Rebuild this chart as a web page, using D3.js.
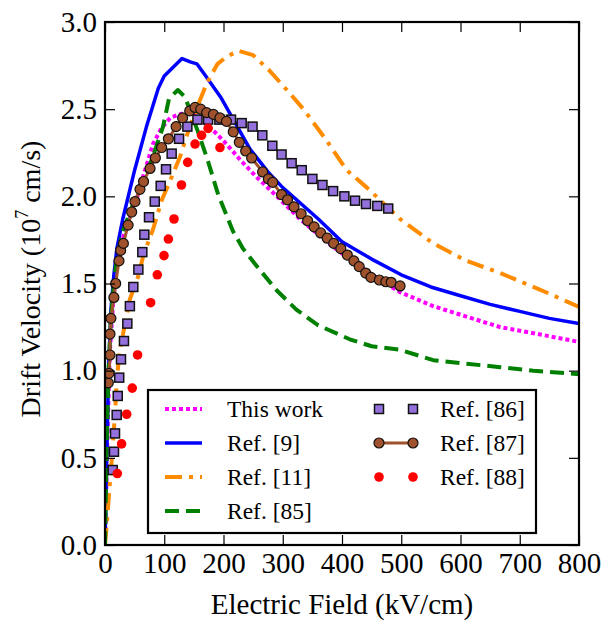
<!DOCTYPE html>
<html>
<head>
<meta charset="utf-8">
<script src="https://cdn.jsdelivr.net/npm/d3@7"></script>
<style>
  html, body { margin: 0; padding: 0; background: #fff; }
  svg { display: block; }
  text { font-family: "Liberation Serif", "Times New Roman", serif; fill: #000; }
</style>
</head>
<body>
<svg id="chart" width="603" height="623"></svg>
<script>
// ---------- data (E in kV/cm, v in 1e7 cm/s) ----------
const thisWork = [[0,0],[2,0.3],[4,0.6],[6,0.85],[8,1.1],[14,1.4],[20,1.6],[25,1.7],[32,1.78],[42,1.88],[53,1.98],[64,2.11],[81,2.30],[95,2.39],[110,2.45],[125,2.47],[143,2.485],[155,2.47],[166,2.43],[188,2.36],[205,2.30],[228,2.21],[256,2.11],[290,2.00],[329,1.87],[374,1.74],[420,1.62],[460,1.53],[498,1.45],[554,1.37],[610,1.31],[667,1.25],[723,1.215],[800,1.165]];
const ref9 = [[0,0],[3,0.5],[6,1.0],[10,1.35],[15,1.55],[20,1.7],[30,1.87],[50,2.15],[70,2.40],[90,2.62],[100,2.69],[115,2.74],[130,2.79],[145,2.77],[155,2.76],[170,2.69],[195,2.57],[215,2.45],[245,2.27],[275,2.14],[300,2.05],[330,1.96],[360,1.87],[400,1.74],[450,1.64],[500,1.55],[550,1.48],[600,1.43],[650,1.38],[700,1.34],[750,1.30],[800,1.27]];
const ref11 = [[0,0],[3,0.12],[7,0.3],[11,0.47],[17,0.76],[20,0.95],[25,1.12],[34,1.27],[42,1.41],[56,1.54],[64,1.65],[70,1.71],[81,1.81],[96,1.98],[110,2.09],[127,2.23],[143,2.40],[160,2.55],[172,2.65],[190,2.76],[205,2.80],[225,2.835],[250,2.81],[278,2.72],[307,2.61],[335,2.50],[374,2.32],[408,2.15],[442,2.05],[498,1.87],[554,1.73],[610,1.63],[667,1.56],[751,1.44],[800,1.365]];
const ref85 = [[0,0],[3,0.6],[6,1.0],[10,1.3],[15,1.5],[20,1.65],[30,1.8],[47,1.95],[62,2.06],[80,2.22],[98,2.40],[108,2.56],[123,2.61],[135,2.57],[157,2.37],[174,2.20],[191,2.01],[216,1.80],[233,1.70],[256,1.60],[290,1.46],[323,1.35],[360,1.26],[413,1.18],[450,1.14],[498,1.12],[554,1.06],[610,1.04],[667,1.02],[723,1.00],[800,0.98]];
const ref86 = [[13,0.43],[15.2,0.535],[16.9,0.64],[19.7,0.746],[21.5,0.855],[24,0.96],[27,1.065],[32,1.17],[37.7,1.27],[42,1.37],[47.8,1.48],[56.3,1.58],[63,1.68],[66.4,1.78],[74.3,1.88],[84,1.97],[94,2.06],[103,2.155],[112.5,2.245],[125,2.33],[139,2.40],[156,2.44],[174,2.44],[193,2.44],[212.7,2.44],[230.7,2.42],[249,2.40],[265.5,2.35],[282.4,2.29],[298,2.24],[315,2.19],[332,2.15],[350,2.10],[367,2.065],[385,2.03],[404,2.00],[422,1.975],[440.5,1.956],[459.6,1.945],[478,1.93]];
const ref87 = [[5.6,0.93],[6.8,0.985],[8.4,1.09],[8.4,1.21],[10,1.30],[15,1.42],[18,1.50],[23.6,1.63],[26.4,1.69],[31,1.73],[39,1.835],[45,1.91],[50.6,1.97],[59,2.04],[65,2.085],[76,2.16],[85,2.22],[95.6,2.28],[107,2.33],[120,2.40],[131,2.45],[143,2.49],[152,2.51],[161.5,2.50],[171.6,2.48],[183,2.47],[194,2.45],[205,2.43],[216.5,2.37],[226.7,2.31],[237.4,2.26],[247.5,2.22],[266,2.14],[275.7,2.10],[283,2.08],[298,2.01],[308,1.98],[319,1.94],[331,1.90],[342,1.86],[353,1.825],[364,1.79],[375,1.76],[386,1.73],[398,1.70],[409,1.663],[420,1.63],[429,1.597],[440,1.56],[449,1.535],[463,1.52],[474,1.51],[483,1.507],[498,1.486]];
const ref88 = [[20.8,0.41],[28,0.58],[36.6,0.75],[46,0.90],[55,1.09],[77,1.39],[88.3,1.55],[99.6,1.66],[107,1.755],[116.5,1.87],[129,2.065],[139.5,2.195],[152,2.30],[163,2.35],[174,2.39],[194,2.28]];

const xTicks = [0,100,200,300,400,500,600,700,800];
const yTicks = [0,0.5,1.0,1.5,2.0,2.5,3.0];
const legendLeft = ["This work","Ref. [9]","Ref. [11]","Ref. [85]"];
const legendRight = ["Ref. [86]","Ref. [87]","Ref. [88]"];

// ---------- layout ----------
const svg = d3.select("#chart");
const L = 105, R = 579, T = 22, B = 545;
const x = d3.scaleLinear().domain([0, 800]).range([L, R]);
const y = d3.scaleLinear().domain([0, 3]).range([B, T]);

svg.append("defs").append("clipPath").attr("id","clip")
  .append("rect").attr("x", L).attr("y", T).attr("width", R - L).attr("height", B - T);

const line = d3.line().x(d => x(d[0])).y(d => y(d[1]));
const plot = svg.append("g").attr("clip-path", "url(#clip)");

const styles = {
  tw:  {color:"#ff00ff", width:4, dash:"4,3"},
  r9:  {color:"#0000ff", width:3.5, dash:null},
  r11: {color:"#ff8c00", width:4, dash:"17,7,4,7"},
  r85: {color:"#008000", width:4, dash:"14,7"}
};
function drawLine(data, s) {
  plot.append("path").datum(data).attr("d", line)
    .attr("fill","none").attr("stroke", s.color).attr("stroke-width", s.width)
    .attr("stroke-dasharray", s.dash).attr("stroke-linejoin","round");
}
drawLine(thisWork, styles.tw);
drawLine(ref9, styles.r9);
drawLine(ref11, styles.r11);
drawLine(ref85, styles.r85);

// Ref 86 squares
const sq = 9;
plot.append("g").selectAll("rect").data(ref86).join("rect")
  .attr("x", d => x(d[0]) - sq/2).attr("y", d => y(d[1]) - sq/2)
  .attr("width", sq).attr("height", sq)
  .attr("fill", "#9370db").attr("stroke", "#111").attr("stroke-width", 1.5);

// Ref 87 line + circles
plot.append("path").datum(ref87).attr("d", line)
  .attr("fill","none").attr("stroke","#a0522d").attr("stroke-width",3);
plot.append("g").selectAll("circle").data(ref87).join("circle")
  .attr("cx", d => x(d[0])).attr("cy", d => y(d[1])).attr("r", 5)
  .attr("fill","#a0522d").attr("stroke","#111").attr("stroke-width",1.2);

// Ref 88 red dots
plot.append("g").selectAll("circle").data(ref88).join("circle")
  .attr("cx", d => x(d[0])).attr("cy", d => y(d[1])).attr("r", 4.8)
  .attr("fill","#ff0000");

// ---------- axes ----------
const tickLen = 10;
const tickFont = 29;
const gx = svg.append("g").attr("transform", `translate(0,${B})`)
  .call(d3.axisBottom(x).tickValues(xTicks).tickFormat(d3.format("d")).tickSizeInner(-tickLen).tickSizeOuter(0).tickPadding(7));
const gxt = svg.append("g").attr("transform", `translate(0,${T})`)
  .call(d3.axisTop(x).tickValues(xTicks).tickFormat("").tickSizeInner(-tickLen).tickSizeOuter(0));
const gy = svg.append("g").attr("transform", `translate(${L},0)`)
  .call(d3.axisLeft(y).tickValues(yTicks).tickFormat(d3.format(".1f")).tickSizeInner(-tickLen).tickSizeOuter(0).tickPadding(8));
const gyr = svg.append("g").attr("transform", `translate(${R},0)`)
  .call(d3.axisRight(y).tickValues(yTicks).tickFormat("").tickSizeInner(-tickLen).tickSizeOuter(0));
[gx, gxt, gy, gyr].forEach(g => {
  g.select(".domain").remove();
  g.selectAll(".tick line").attr("stroke","#000").attr("stroke-width",1.2);
  g.selectAll(".tick text").attr("font-size", tickFont).attr("font-family", '"Liberation Serif", serif').attr("fill","#000");
});

svg.append("rect").attr("x", L).attr("y", T).attr("width", R - L).attr("height", B - T)
  .attr("fill","none").attr("stroke","#000").attr("stroke-width",2.2);

// axis titles
svg.append("text").attr("x", (L + R) / 2).attr("y", 614).attr("text-anchor","middle")
  .attr("font-size", 29).text("Electric Field (kV/cm)");
const yl = svg.append("text").attr("transform", `translate(40,279) rotate(-90)`)
  .attr("text-anchor","middle").attr("font-size", 28);
yl.append("tspan").text("Drift Velocity (10");
yl.append("tspan").attr("font-size", 18).attr("dy", -12).text("7");
yl.append("tspan").attr("dy", 12).text(" cm/s)");

// ---------- legend ----------
const lg = svg.append("g");
lg.append("rect").attr("x",148).attr("y",390).attr("width",388).attr("height",143)
  .attr("fill","#fff").attr("stroke","#000").attr("stroke-width",2.2);
const rowY = [409, 443, 477, 511];
const lineKeys = ["tw","r9","r11","r85"];
const legFont = 23.5;
legendLeft.forEach((name, i) => {
  const s = styles[lineKeys[i]];
  lg.append("line").attr("x1",165).attr("x2",202).attr("y1",rowY[i]).attr("y2",rowY[i])
    .attr("stroke", s.color).attr("stroke-width", s.width).attr("stroke-dasharray", s.dash);
  lg.append("text").attr("x",227).attr("y",rowY[i] + 8).attr("font-size",legFont).text(name);
});
const mx = [379, 413];
mx.forEach(px => lg.append("rect").attr("x", px - 4.5).attr("y", rowY[0] - 4.5).attr("width", 9).attr("height", 9)
  .attr("fill","#9370db").attr("stroke","#111").attr("stroke-width",1.5));
lg.append("line").attr("x1", mx[0]).attr("x2", mx[1]).attr("y1", rowY[1]).attr("y2", rowY[1])
  .attr("stroke","#a0522d").attr("stroke-width",3);
mx.forEach(px => lg.append("circle").attr("cx", px).attr("cy", rowY[1]).attr("r",5)
  .attr("fill","#a0522d").attr("stroke","#111").attr("stroke-width",1.2));
mx.forEach(px => lg.append("circle").attr("cx", px).attr("cy", rowY[2]).attr("r",4.8).attr("fill","#ff0000"));
legendRight.forEach((name, i) => {
  lg.append("text").attr("x",440).attr("y",rowY[i] + 8).attr("font-size",legFont).text(name);
});
</script>
</body>
</html>
